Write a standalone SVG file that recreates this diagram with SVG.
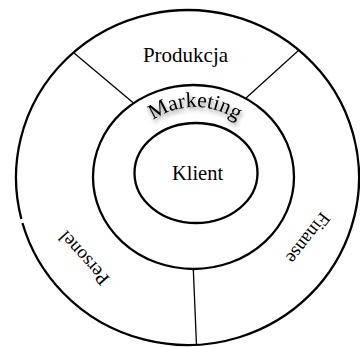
<svg xmlns="http://www.w3.org/2000/svg" width="360" height="347" viewBox="0 0 360 347">
  <style>
    .ring { fill: none; stroke: #000; stroke-width: 2.3; }
    .divider { fill: none; stroke: #000; stroke-width: 1.3; }
    .label { font-family: "Liberation Serif", "Times New Roman", serif; fill: #000; text-anchor: middle; }
  </style>
  <defs>
    <filter id="softShadow" x="-20%" y="-40%" width="140%" height="190%">
      <feDropShadow dx="1" dy="3" stdDeviation="2.2" flood-color="#000" flood-opacity="0.5"/>
    </filter>
    <path id="marketingArc" d="M 122,180 A 73 73 0 0 1 268,180"/>
  </defs>
  <rect width="360" height="347" fill="#fff"/>

  <!-- concentric rings -->
  <g id="outer-ring">
    <path class="ring" d="M 21.35,219 A 171.5 167.5 0 1 1 22.45,223"/>
  </g>
  <g id="middle-ring">
    <ellipse class="ring" cx="193.5" cy="177" rx="100.5" ry="92"/>
  </g>
  <g id="inner-ring">
    <ellipse class="ring" cx="196" cy="173" rx="61.5" ry="50"/>
  </g>

  <!-- sector dividers between outer and middle ring -->
  <g id="connectors">
    <line class="divider" x1="74" y1="53" x2="133.5" y2="103"/>
    <line class="divider" x1="299" y1="50" x2="246" y2="98"/>
    <line class="divider" x1="193.3" y1="269" x2="196.5" y2="345"/>
  </g>

  <g id="produkcja">
    <text class="label" x="185.5" y="61.7" font-size="21">Produkcja</text>
  </g>
  <g id="klient">
    <text class="label" x="197.5" y="180" font-size="20.5">Klient</text>
  </g>
  <g id="marketing">
    <text class="label" font-size="21.5" filter="url(#softShadow)">
      <textPath href="#marketingArc" startOffset="50%">Marketing</textPath>
    </text>
  </g>
  <g id="personel">
    <text class="label" font-size="19" transform="translate(84 258) rotate(-132)" x="0" y="6">Personel</text>
  </g>
  <g id="finanse">
    <text class="label" font-size="19" transform="translate(308 238) rotate(128)" x="0" y="6">Finanse</text>
  </g>
</svg>
